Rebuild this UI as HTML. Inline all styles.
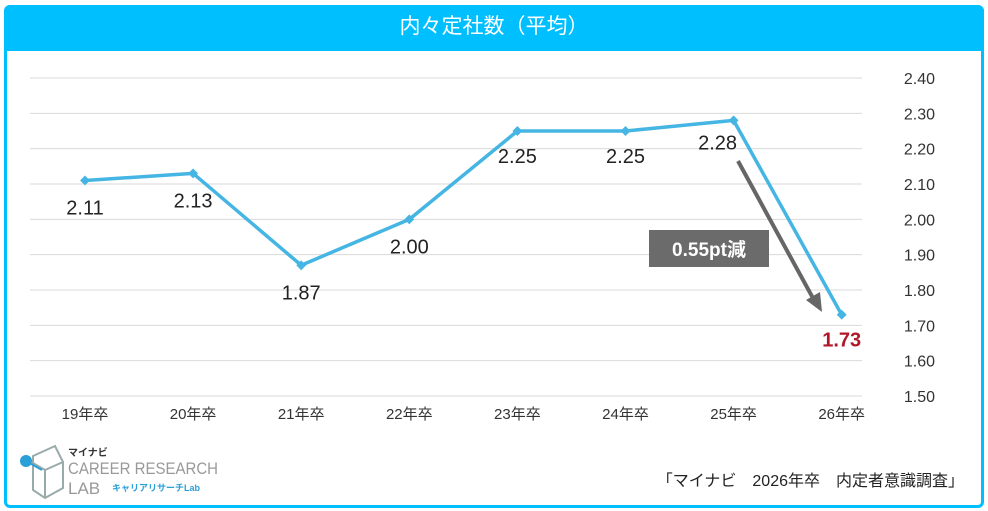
<!DOCTYPE html>
<html><head><meta charset="utf-8"><style>
body{margin:0;width:988px;height:511px;background:#fff;overflow:hidden;font-family:"Liberation Sans","Noto Sans CJK JP",sans-serif}
#frame{position:absolute;left:4px;top:5px;width:974px;height:497px;border:3px solid #00bfff;border-radius:6px;box-sizing:content-box}
#title{position:absolute;left:4px;top:5px;width:980px;height:46px;background:#00bfff;color:#fff;font-size:21px;text-align:center;line-height:44px;border-radius:6px 6px 0 0}
svg{position:absolute;left:0;top:0}
</style></head><body>
<div id="frame"></div>
<div id="title">内々定社数（平均）</div>
<svg id="chart" width="988" height="511"></svg>
<script>
const categories=["19年卒","20年卒","21年卒","22年卒","23年卒","24年卒","25年卒","26年卒"];
const values=[2.11,2.13,1.87,2.00,2.25,2.25,2.28,1.73];
const ticks=[1.50,1.60,1.70,1.80,1.90,2.00,2.10,2.20,2.30,2.40];
const NS="http://www.w3.org/2000/svg";
const svg=document.getElementById('chart');
const y=v=>396-(v-1.5)/(0.9)*318;
const x=i=>85+i*108.1;
function mk(t,a,p){const e=document.createElementNS(NS,t);for(const k in a)e.setAttribute(k,a[k]);(p||svg).appendChild(e);return e;}
ticks.forEach(t=>{
 const l=mk('line',{x1:30,x2:862,y1:y(t),y2:y(t),stroke:'#d9d9d9','stroke-width':1});
 
 
 const tx=mk('text',{x:935,y:y(t)+6,'text-anchor':'end','font-size':16,fill:'#333'});
 tx.textContent=t.toFixed(2);
 
 
});
categories.forEach((c,i)=>{
 const tx=mk('text',{x:x(i),y:419,'text-anchor':'middle','font-size':15,fill:'#333'});
 tx.textContent=c;
 
 
});
const pl=mk('polyline',{points:values.map((v,i)=>x(i)+','+y(v)).join(' '),fill:'none',stroke:'#45b5e3','stroke-width':3.5,'stroke-linejoin':'round'});


values.forEach((v,i)=>{
 const d=mk('rect',{x:x(i)-3.5,y:y(v)-3.5,width:7,height:7,fill:'#45b5e3',transform:`rotate(45 ${x(i)} ${y(v)})`});
 
 
 const last=i===values.length-1;
 const t=mk('text',{x:x(i),y:y(v)+(last?32:34),'text-anchor':'middle','font-size':20,fill:last?'#b0182a':'#222','font-weight':last?'bold':'normal'});
 t.textContent=v.toFixed(2);
 if(i===6){t.setAttribute('y',y(v)+29);t.setAttribute('x',x(i)-16);}
 if(i===4||i===5){t.setAttribute('y',y(v)+32);}
 
 
});
const ar=mk('line',{x1:738,y1:161,x2:814,y2:300,stroke:'#666','stroke-width':4});


const ah=mk('polygon',{points:'822,312 806,300 820,292',fill:'#666'});


const box=mk('rect',{x:649,y:230,width:120,height:37,fill:'#6b6b6b'});


const bt=mk('text',{x:709,y:256,'text-anchor':'middle','font-size':19,fill:'#fff','font-weight':'bold'});
bt.textContent='0.55pt減';


const src=mk('text',{x:964,y:486,'text-anchor':'end','font-size':16,fill:'#222'});
src.textContent='「マイナビ　2026年卒　内定者意識調査」';


const g=mk('g',{});


mk('path',{d:'M33,456 L55,446 L63,462 L63,488 L45,498 L33,490 Z M45,470 L63,462 M45,470 L45,498 M45,470 L33,463',fill:'none',stroke:'#9aa','stroke-width':2},g);
mk('circle',{cx:26,cy:461,r:6,fill:'#2a9fd8'},g);
mk('line',{x1:26,y1:461,x2:42,y2:470,stroke:'#2a9fd8','stroke-width':2},g);
const l1=mk('text',{x:68,y:456,'font-size':10,'font-weight':'bold',fill:'#333'},g);l1.textContent='マイナビ';
const l2=mk('text',{x:68,y:474,'font-size':17,fill:'#999',textLength:150,lengthAdjust:'spacingAndGlyphs'},g);l2.textContent='CAREER RESEARCH';
const l3=mk('text',{x:68,y:494,'font-size':17,fill:'#999'},g);l3.textContent='LAB';
const l4=mk('text',{x:112,y:491,'font-size':9,'font-weight':'bold',fill:'#2a9fd8'},g);l4.textContent='キャリアリサーチLab';
</script>
</body></html>
